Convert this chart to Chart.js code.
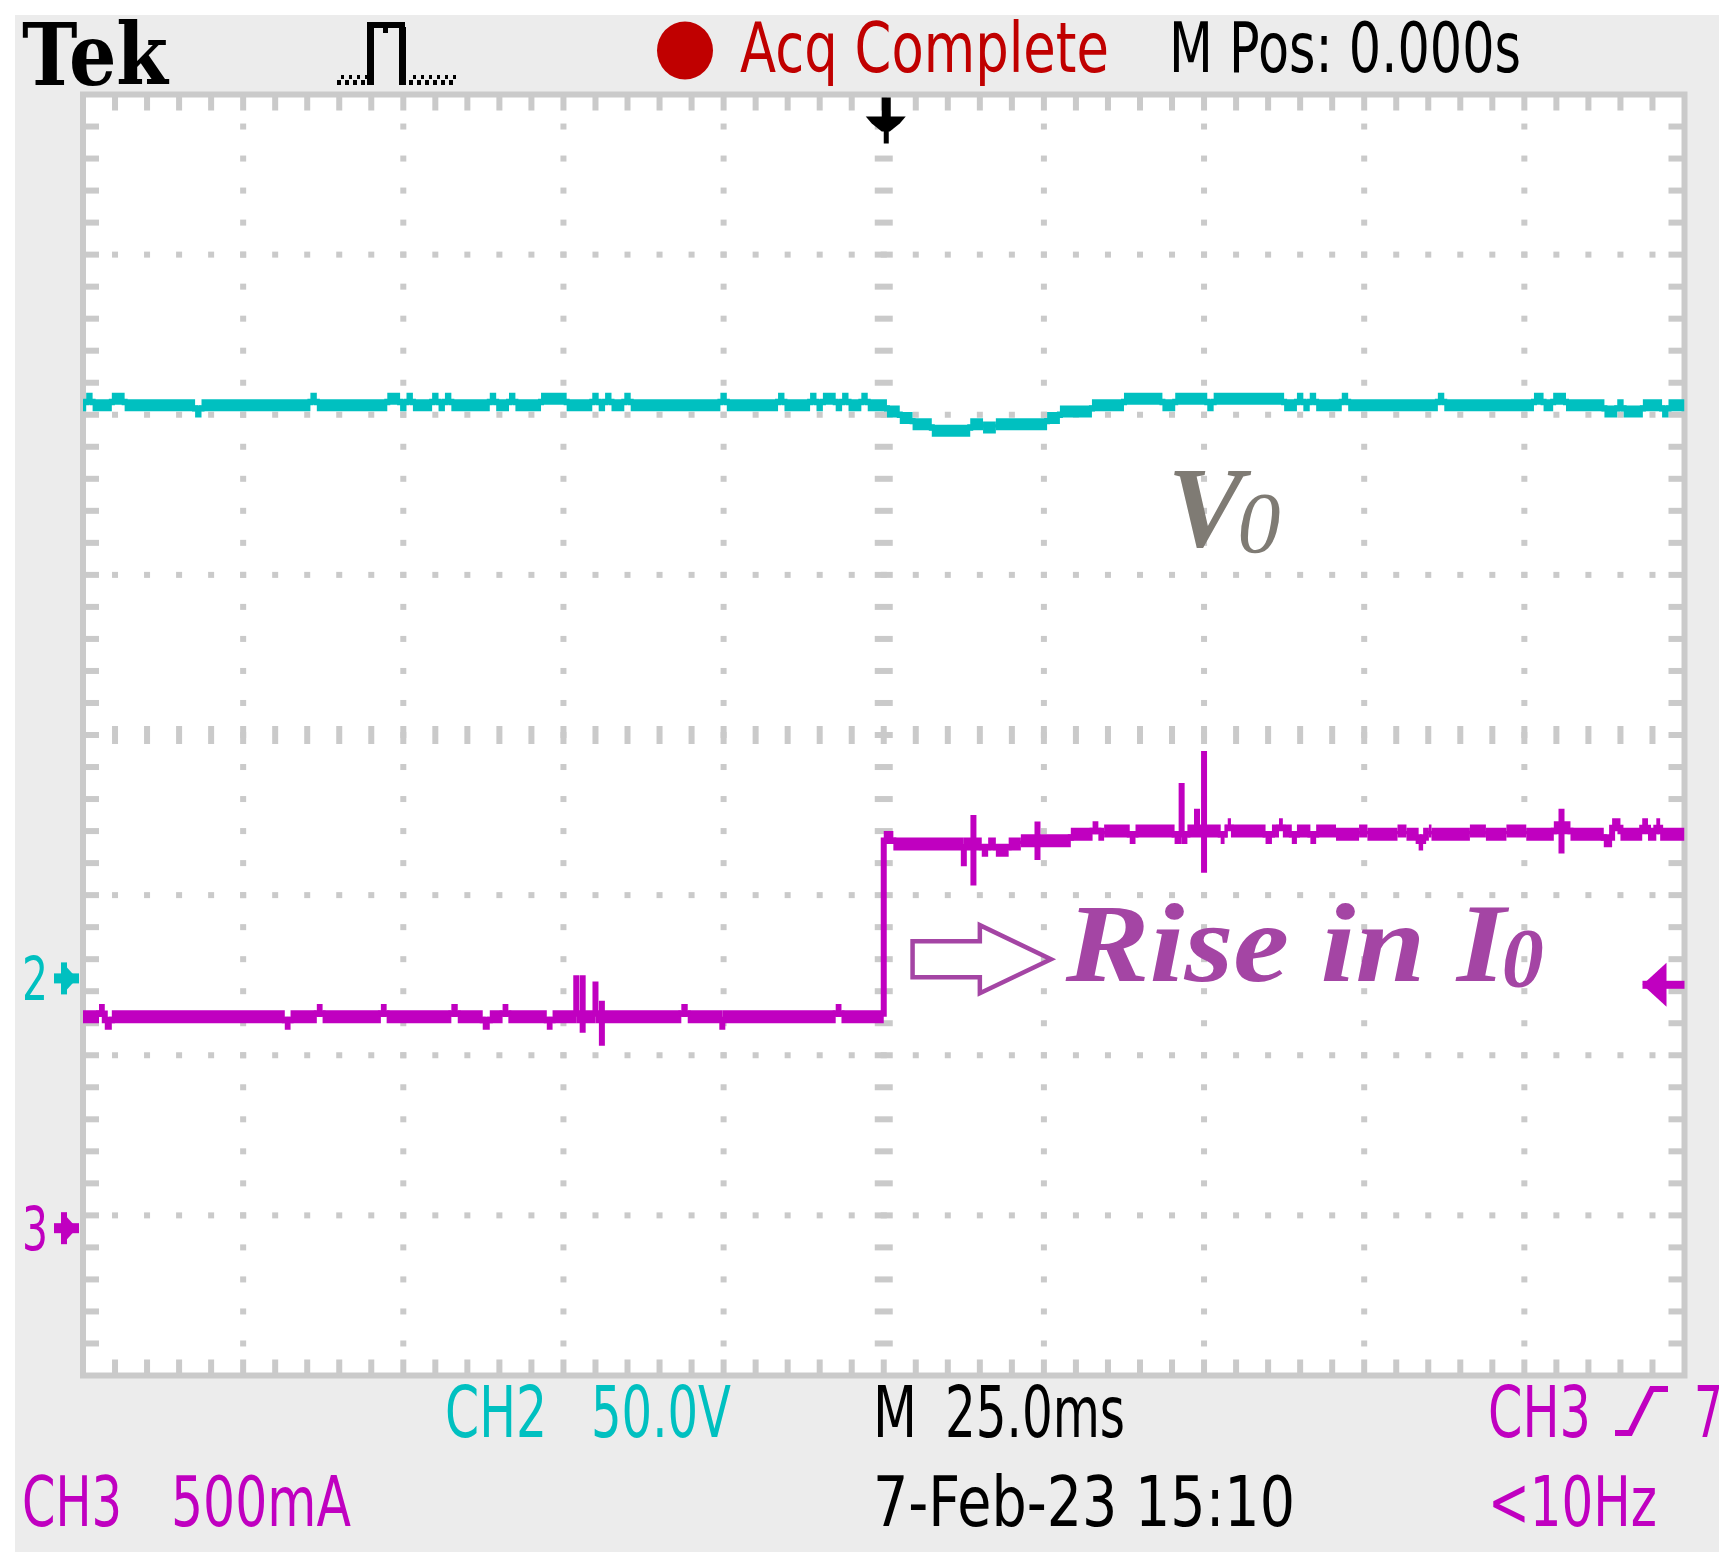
<!DOCTYPE html>
<html>
<head>
<meta charset="utf-8">
<title>Tek scope capture - V0 and rise in I0</title>
<script src="https://cdn.jsdelivr.net/npm/chart.js@4.4.1/dist/chart.umd.min.js"></script>
<style>
  html, body { margin: 0; padding: 0; background: #ffffff; }
  canvas { display: block; }
</style>
</head>
<body>
<canvas id="scope" width="1732" height="1567" style="width:1732px;height:1567px"></canvas>
<script>
// ---------------- DATA ----------------
// time axis: 10 divisions of 25 ms, trigger (M Pos 0.000 s) at centre
const timeRangeMs = [-125, 125];
const timeStepMs = 25;

// CH2 output voltage V0 (50.0 V/div), [time ms, volts]
const ch2Points = [
  [-125,179],
  [-124.5,179],[-124.5,181],[-123.5,181],[-123.5,179],
  [-120.5,179],[-120.5,181],[-118.5,181],[-118.5,179],
  [-107.5,179],[-107.5,177],[-106.5,177],[-106.5,179],
  [-89.5,179],[-89.5,181],[-88.5,181],[-88.5,179],
  [-77.5,179],[-77.5,181],[-75.5,181],[-75.5,179],
  [-74.5,179],[-74.5,181],[-73.5,181],[-73.5,179],
  [-70.5,179],[-70.5,181],[-69.5,181],[-69.5,179],
  [-68.5,179],[-68.5,181],[-67.5,181],[-67.5,179],
  [-61.5,179],[-61.5,181],[-60.5,181],[-60.5,179],
  [-58.5,179],[-58.5,181],[-57.5,181],[-57.5,179],
  [-53.5,179],[-53.5,181],[-49.5,181],[-49.5,179],
  [-45.5,179],[-45.5,181],[-44.5,181],[-44.5,179],
  [-43.5,179],[-43.5,181],[-42.5,181],[-42.5,179],
  [-40.5,179],[-40.5,181],[-39.5,181],[-39.5,179],
  [-25.5,179],[-25.5,181],[-24.5,181],[-24.5,179],
  [-16.5,179],[-16.5,181],[-15.5,181],[-15.5,179],
  [-11.5,179],[-11.5,181],[-10.5,181],[-10.5,179],
  [-9.5,179],[-9.5,181],[-7.5,181],[-7.5,179],
  [-6.5,179],[-6.5,181],[-5.5,181],[-5.5,179],
  [-3.5,179],[-3.5,181],[-2.5,181],[-2.5,179],
  [0.5,179],[0.5,177],[2.5,177],[2.5,175],[4.5,175],[4.5,173],
  [7.5,173],[7.5,171],[13.5,171],[13.5,173],[15.5,173],[15.5,172],
  [17.5,172],[17.5,173],[25.5,173],[25.5,175],[27.5,175],[27.5,177],
  [32.5,177],[32.5,179],[37.5,179],[37.5,181],
  [43.5,181],[43.5,179],[45.5,179],[45.5,181],
  [50.5,181],[50.5,179],[51.5,179],[51.5,181],
  [62.5,181],[62.5,179],
  [64.5,179],[64.5,181],[65.5,181],[65.5,179],
  [66.5,179],[66.5,181],[67.5,181],[67.5,179],
  [71.5,179],[71.5,181],[72.5,181],[72.5,179],
  [86.5,179],[86.5,181],[87.5,181],[87.5,179],
  [101.5,179],[101.5,181],[103,181],[103,179],
  [104.5,179],[104.5,181],[106.5,181],[106.5,179],
  [112.5,179],[112.5,177],[114.5,177],[114.5,179],
  [115.5,179],[115.5,177],[118.5,177],[118.5,179],
  [121.5,179],[121.5,177],[122.5,177],[122.5,179],
  [125,179]
];

// CH3 output current I0 (500 mA/div), [time ms, amps]
const ch3Points = [
  [-125,0.66],
  [-122.5,0.66],[-122.5,0.68],[-121.6,0.68],[-121.6,0.64],[-120.5,0.64],[-120.5,0.66],
  [-93.5,0.66],[-93.5,0.64],[-92.6,0.64],[-92.6,0.66],
  [-88.5,0.66],[-88.5,0.68],[-87.6,0.68],[-87.6,0.66],
  [-78.5,0.66],[-78.5,0.68],[-77.6,0.68],[-77.6,0.66],
  [-67.5,0.66],[-67.5,0.68],[-66.5,0.68],[-66.5,0.66],
  [-62.6,0.66],[-62.6,0.64],[-61.5,0.64],[-61.5,0.66],
  [-59.5,0.66],[-59.5,0.68],[-58.6,0.68],[-58.6,0.66],
  [-52.6,0.66],[-52.6,0.64],[-51.7,0.64],[-51.7,0.66],
  [-48,0.66],[-48,0.79],[-48,0.66],
  [-47,0.66],[-47,0.79],[-47,0.61],[-47,0.66],
  [-45,0.66],[-45,0.77],[-45,0.66],
  [-44,0.66],[-44,0.71],[-44,0.57],[-44,0.66],
  [-31.6,0.66],[-31.6,0.68],[-30.6,0.68],[-30.6,0.66],
  [-25.2,0.66],[-25.2,0.62],[-25.2,0.66],
  [-7.5,0.66],[-7.5,0.68],[-6.6,0.68],[-6.6,0.66],
  [0,0.66],[0,1.22],[1.5,1.22],[1.5,1.20],
  [12.5,1.20],[12.5,1.13],[12.5,1.20],
  [14,1.20],[14,1.29],[14,1.07],[14,1.20],
  [15.3,1.20],[15.3,1.18],[16.3,1.18],[16.3,1.20],
  [17.5,1.20],[17.5,1.18],[19.5,1.18],[19.5,1.20],
  [21.4,1.20],[21.4,1.21],
  [24,1.21],[24,1.27],[24,1.15],[24,1.21],
  [29.2,1.21],[29.2,1.23],
  [32.6,1.23],[32.6,1.25],[33.5,1.25],[33.5,1.23],
  [34.4,1.23],[34.4,1.24],
  [38.4,1.24],[38.4,1.22],[39.3,1.22],[39.3,1.24],
  [45.4,1.24],[45.4,1.22],[46.5,1.22],[46.5,1.39],[46.5,1.22],[47.4,1.22],[47.4,1.24],
  [48.9,1.24],[48.9,1.31],[48.9,1.24],
  [50,1.24],[50,1.49],[50,1.11],[50,1.24],
  [52.6,1.24],[52.6,1.22],[53.2,1.22],[53.2,1.24],
  [53.7,1.24],[53.7,1.26],[54.2,1.26],[54.2,1.24],
  [59.6,1.24],[59.6,1.22],[60.6,1.22],[60.6,1.24],
  [61.7,1.24],[61.7,1.26],[62.3,1.26],[62.3,1.24],
  [63.7,1.24],[63.7,1.22],[64.5,1.22],[64.5,1.24],
  [66.6,1.24],[66.6,1.22],[67.5,1.22],[67.5,1.24],
  [70.6,1.24],[70.6,1.23],[74.2,1.23],[74.2,1.24],
  [75.5,1.24],[75.5,1.23],[80.2,1.23],[80.2,1.24],
  [81.6,1.24],[81.6,1.23],[83.5,1.23],[83.5,1.20],[84.2,1.20],[84.2,1.23],[85.1,1.23],[85.1,1.24],
  [85.5,1.24],[85.5,1.23],[91.5,1.23],[91.5,1.24],
  [94,1.24],[94,1.23],[97.2,1.23],[97.2,1.24],
  [100.3,1.24],[100.3,1.23],[104.6,1.23],[104.6,1.25],
  [105.8,1.25],[105.8,1.31],[105.8,1.17],[105.8,1.25],[107.2,1.25],[107.2,1.23],
  [112.4,1.23],[112.4,1.21],[113.7,1.21],[113.7,1.26],[115,1.26],[115,1.23],
  [118.4,1.23],[118.4,1.26],[119.3,1.26],[119.3,1.23],
  [120.6,1.23],[120.6,1.26],[121.2,1.26],[121.2,1.23],
  [125,1.23]
];

// channel scale settings (per division) and reference (ground) markers
const ch2VoltsPerDiv = 50;
const ch3AmpsPerDiv = 0.5;
const ch2OffsetDiv = -1.52;   // ground marker "2" position in divisions
const ch3OffsetDiv = -3.08;   // ground marker "3" position in divisions
const triggerLevelA = 0.76;   // CH3 trigger level marker

// text
const headerLabels = ["Tek", "Acq Complete", "M Pos: 0.000s"];
const footerLabels = ["CH2", "50.0V", "M", "25.0ms", "CH3", "7",
                      "CH3", "500mA", "7-Feb-23 15:10", "<10Hz"];
const annotationLabels = { vout: ["V", "0"], rise: ["Rise in I", "0"] };
const channelMarkers = ["2", "3"];

// ---------------- STYLE / LAYOUT ----------------
const COL = {
  cyan: "#00c0c0", magenta: "#c000c0", red: "#c00000", black: "#000000",
  band: "#ececec", grid: "#cacaca", anno: "#a445a4", vAnno: "#7f7b74"
};
const SANS = '"DejaVu Sans", "Liberation Sans", sans-serif';
const SERIF = '"Liberation Serif", "DejaVu Serif", serif';

// header/footer text placement: [x, baseline, cap height, width, colour]
const headerLayout = [
  [22, 85, 63, 146, COL.black, "bold", '"DejaVu Serif", serif', 0.729],
  [740, 72, 50, 369, COL.red, "", SANS, 0.729],
  [1169, 72, 50, 352, COL.black, "", SANS, 0.729]
];
const footerLayout = [
  [445, 1437, 52, 102, COL.cyan],
  [591, 1437, 52, 140, COL.cyan],
  [873, 1437, 52, 44, COL.black],
  [945, 1437, 52, 180, COL.black],
  [1488, 1437, 52, 103, COL.magenta],
  [1694, 1437, 52, 29, COL.magenta],
  [22, 1526, 51, 100, COL.magenta],
  [171, 1526, 51, 180, COL.magenta],
  [873, 1526, 51, 422, COL.black],
  [1488, 1526, 51, 169, COL.magenta]
];

function fitText(ctx, text, x, baseline, capH, width, color, weight, family, capRatio, style) {
  const fs = capH / (capRatio || 0.729);
  ctx.save();
  ctx.font = `${style || ""} ${weight || ""} ${fs.toFixed(1)}px ${family || SANS}`;
  ctx.textBaseline = "alphabetic";
  ctx.textAlign = "left";
  const w = ctx.measureText(text).width;
  ctx.translate(x, baseline);
  if (width) ctx.scale(width / w, 1);
  ctx.fillStyle = color;
  ctx.fillText(text, 0, 0);
  ctx.restore();
}

const scopePlugin = {
  id: "scope",
  beforeDraw(chart) {
    const ctx = chart.ctx, a = chart.chartArea;
    ctx.save();
    ctx.fillStyle = "#ffffff";
    ctx.fillRect(0, 0, chart.width, chart.height);
    ctx.fillStyle = COL.band;
    ctx.fillRect(15, 15, 1704, 1537);
    ctx.fillStyle = "#ffffff";
    ctx.fillRect(a.left, a.top, a.right - a.left, a.bottom - a.top);
    ctx.restore();
  },
  beforeDatasetsDraw(chart) {
    const ctx = chart.ctx, a = chart.chartArea;
    const xs = chart.scales.x, yd = chart.scales.yDiv;
    const D = 6, T = 16;
    ctx.save();
    ctx.fillStyle = COL.grid;
    const minorT = [];
    for (let t = timeRangeMs[0]; t <= timeRangeMs[1] + 1e-9; t += timeStepMs / 5) minorT.push(t);
    const minorD = [];
    for (let k = -20; k <= 20; k++) minorD.push(k / 5);
    // vertical graticule lines (dotted)
    for (let t = timeRangeMs[0] + timeStepMs; t < timeRangeMs[1]; t += timeStepMs) {
      const px = xs.getPixelForValue(t);
      minorD.forEach(d => {
        if (Math.abs(d) >= 4) return;
        const py = yd.getPixelForValue(d);
        if (t === 0) ctx.fillRect(px - 9, py - D / 2, 18, D);
        else ctx.fillRect(px - D / 2, py - D / 2, D, D);
      });
    }
    // horizontal graticule lines (dotted)
    for (let d = -3; d <= 3; d++) {
      const py = yd.getPixelForValue(d);
      minorT.forEach(t => {
        if (Math.abs(t) >= 125) return;
        const px = xs.getPixelForValue(t);
        if (d === 0) ctx.fillRect(px - D / 2, py - 9, D, 18);
        else ctx.fillRect(px - D / 2, py - D / 2, D, D);
      });
    }
    // border ticks
    minorT.forEach(t => {
      if (Math.abs(t) >= 125) return;
      const px = xs.getPixelForValue(t);
      ctx.fillRect(px - D / 2, a.top, D, T);
      ctx.fillRect(px - D / 2, a.bottom - T, D, T);
    });
    minorD.forEach(d => {
      if (Math.abs(d) >= 4) return;
      const py = yd.getPixelForValue(d);
      ctx.fillRect(a.left, py - D / 2, T, D);
      ctx.fillRect(a.right - T, py - D / 2, T, D);
    });
    // frame
    ctx.strokeStyle = COL.grid;
    ctx.lineWidth = 6;
    ctx.strokeRect(a.left, a.top, a.right - a.left, a.bottom - a.top);
    ctx.restore();
  },
  afterDatasetsDraw(chart) {
    const ctx = chart.ctx, a = chart.chartArea;
    const xs = chart.scales.x, yV = chart.scales.yV, yA = chart.scales.yA;
    ctx.save();
    // trigger position marker (top, black)
    const x0 = xs.getPixelForValue(0) + 2;
    ctx.fillStyle = COL.black;
    ctx.fillRect(x0 - 4, a.top + 3, 9, 22);
    ctx.beginPath();
    ctx.moveTo(x0 - 20, a.top + 22);
    ctx.lineTo(x0 + 20, a.top + 22);
    ctx.lineTo(x0 + 14, a.top + 29);
    ctx.lineTo(x0 + 4, a.top + 37);
    ctx.lineTo(x0 - 4, a.top + 37);
    ctx.lineTo(x0 - 14, a.top + 29);
    ctx.closePath();
    ctx.fill();
    ctx.fillRect(x0 - 2, a.top + 30, 5, 19);

    // trigger level marker (right, magenta)
    const yt = yA.getPixelForValue(triggerLevelA);
    ctx.fillStyle = COL.magenta;
    ctx.beginPath();
    ctx.moveTo(a.right - 42, yt);
    ctx.lineTo(a.right - 18, yt - 22);
    ctx.lineTo(a.right - 18, yt + 22);
    ctx.closePath();
    ctx.fill();
    ctx.fillRect(a.right - 42, yt - 4, 42, 8);

    // channel ground markers (left)
    [[yV.getPixelForValue(0), COL.cyan, channelMarkers[0]],
     [yA.getPixelForValue(0), COL.magenta, channelMarkers[1]]].forEach(([gy, c, lab]) => {
      fitText(ctx, lab, 22, gy + 22, 44, 26, c, "", SANS, 0.729);
      ctx.fillStyle = c;
      ctx.fillRect(a.left - 29, gy - 5, 25, 10);
      ctx.fillRect(a.left - 22, gy - 16, 6, 32);
      ctx.beginPath();
      ctx.moveTo(a.left - 16, gy - 11);
      ctx.lineTo(a.left - 6, gy);
      ctx.lineTo(a.left - 16, gy + 11);
      ctx.closePath();
      ctx.fill();
    });

    // V0 label
    const vx = xs.getPixelForValue(44.3), vy = yV.getPixelForValue(135);
    ctx.fillStyle = COL.vAnno;
    ctx.textBaseline = "alphabetic";
    ctx.font = `italic bold 114px ${SERIF}`;
    ctx.fillText(annotationLabels.vout[0], vx, vy);
    ctx.font = `italic 86px ${SERIF}`;
    ctx.fillText(annotationLabels.vout[1], vx + 70, vy + 6);

    // Rise in I0 arrow + label
    const axL = xs.getPixelForValue(4.5), axB = xs.getPixelForValue(15), axT = xs.getPixelForValue(26.1);
    const ay = yA.getPixelForValue(0.84);
    ctx.strokeStyle = COL.anno;
    ctx.lineWidth = 4.5;
    ctx.lineJoin = "miter";
    ctx.beginPath();
    ctx.moveTo(axL, ay - 18);
    ctx.lineTo(axB, ay - 18);
    ctx.lineTo(axB, ay - 34);
    ctx.lineTo(axT, ay);
    ctx.lineTo(axB, ay + 34);
    ctx.lineTo(axB, ay + 18);
    ctx.lineTo(axL, ay + 18);
    ctx.closePath();
    ctx.stroke();

    const rx = xs.getPixelForValue(28.4), ry = yA.getPixelForValue(0.772);
    ctx.fillStyle = COL.anno;
    ctx.font = `italic bold 113px ${SERIF}`;
    const nat = ctx.measureText(annotationLabels.rise[0]).width;
    const target = 440;
    ctx.save();
    ctx.translate(rx, ry);
    ctx.scale(target / nat, 1);
    ctx.fillText(annotationLabels.rise[0], 0, 0);
    ctx.restore();
    ctx.font = `italic bold 84px ${SERIF}`;
    ctx.fillText(annotationLabels.rise[1], rx + target - 4, ry + 6);
    ctx.restore();
  },
  afterDraw(chart) {
    const ctx = chart.ctx;
    // header
    headerLayout.forEach((L, i) => fitText(ctx, headerLabels[i], L[0], L[1], L[2], L[3], L[4], L[5], L[6], L[7]));
    // acquisition indicator dot
    ctx.save();
    ctx.fillStyle = COL.red;
    ctx.beginPath();
    ctx.ellipse(685, 50.5, 28, 29, 0, 0, Math.PI * 2);
    ctx.fill();
    // pulse / run-mode icon
    ctx.fillStyle = COL.black;
    ctx.fillRect(367, 22, 7, 63);
    ctx.fillRect(367, 22, 38, 6);
    ctx.fillRect(399, 27, 7, 58);
    ctx.fillRect(383, 28, 5, 5);
    for (let x = 337; x < 366; x += 8) { ctx.fillRect(x, 80, 4, 5); ctx.fillRect(x + 4, 75, 3, 4); }
    for (let x = 409; x < 452; x += 8) { ctx.fillRect(x, 80, 4, 5); ctx.fillRect(x + 4, 75, 3, 4); }
    ctx.restore();
    // footer
    ctx.save();
    ctx.beginPath();
    ctx.rect(15, 1360, 1704, 200);
    ctx.clip();
    footerLayout.forEach((L, i) => fitText(ctx, footerLabels[i], L[0], L[1], L[2], L[3], L[4], "", SANS, 0.729));
    // trigger slope symbol
    ctx.strokeStyle = COL.magenta;
    ctx.lineWidth = 6;
    ctx.lineCap = "butt";
    ctx.beginPath();
    ctx.moveTo(1615, 1433);
    ctx.lineTo(1630, 1433);
    ctx.lineTo(1652, 1389);
    ctx.lineTo(1668, 1389);
    ctx.stroke();
    ctx.restore();
  }
};

// ---------------- CHART ----------------
const vertWidth = 6;
function segWidth(w) {
  return ctx => (Math.abs(ctx.p0.x - ctx.p1.x) < 0.01 ? vertWidth : w);
}
const div = 4;
new Chart(document.getElementById("scope"), {
  type: "line",
  data: {
    datasets: [
      {
        label: "CH2 V0",
        data: ch2Points.map(([t, v]) => ({ x: t, y: v })),
        yAxisID: "yV",
        borderColor: COL.cyan,
        borderWidth: 12,
        borderCapStyle: "butt",
        borderJoinStyle: "miter",
        pointRadius: 0,
        tension: 0,
        segment: { borderWidth: segWidth(12) }
      },
      {
        label: "CH3 I0",
        data: ch3Points.map(([t, v]) => ({ x: t, y: v })),
        yAxisID: "yA",
        borderColor: COL.magenta,
        borderWidth: 13,
        borderCapStyle: "butt",
        borderJoinStyle: "miter",
        pointRadius: 0,
        tension: 0,
        segment: { borderWidth: segWidth(13) }
      }
    ]
  },
  options: {
    responsive: false,
    animation: false,
    devicePixelRatio: 1,
    layout: { padding: { left: 83, top: 94.5, right: 47.5, bottom: 191.5 } },
    plugins: { legend: { display: false }, tooltip: { enabled: false }, title: { display: false } },
    scales: {
      x: { type: "linear", min: timeRangeMs[0], max: timeRangeMs[1], display: false },
      yV: { type: "linear", display: false,
            min: (-div - ch2OffsetDiv) * ch2VoltsPerDiv, max: (div - ch2OffsetDiv) * ch2VoltsPerDiv },
      yA: { type: "linear", display: false,
            min: (-div - ch3OffsetDiv) * ch3AmpsPerDiv, max: (div - ch3OffsetDiv) * ch3AmpsPerDiv },
      yDiv: { type: "linear", display: false, min: -div, max: div }
    }
  },
  plugins: [scopePlugin]
});
</script>
</body>
</html>
